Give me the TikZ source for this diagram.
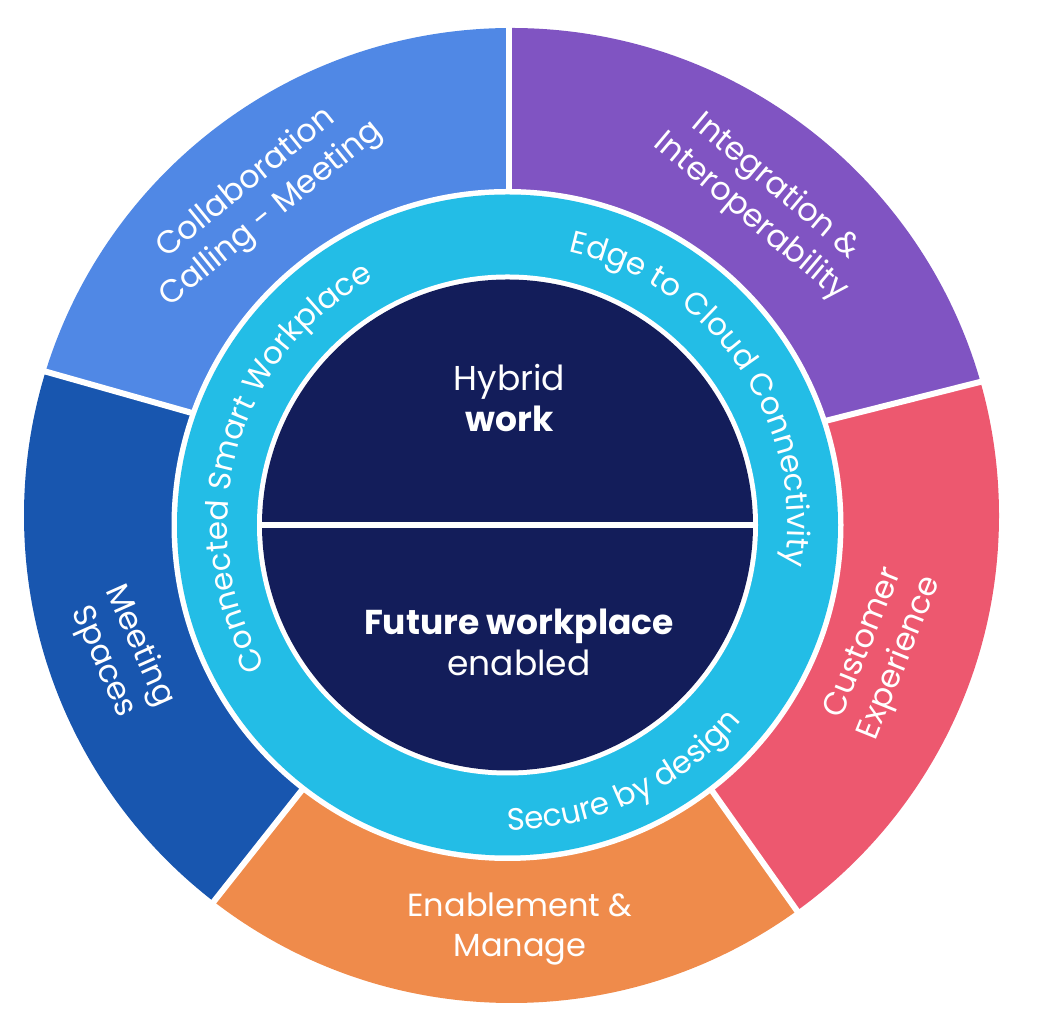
\documentclass[tikz,border=0pt]{standalone}
\usepackage{fontspec}
\setmainfont{Poppins}
\usetikzlibrary{calc,decorations.text}

\definecolor{collabblue}{RGB}{80,136,229}
\definecolor{integpurple}{RGB}{128,84,194}
\definecolor{custpink}{RGB}{237,88,111}
\definecolor{enableorange}{RGB}{239,139,75}
\definecolor{meetblue}{RGB}{24,86,175}
\definecolor{ringcyan}{RGB}{35,189,230}
\definecolor{hubnavy}{RGB}{19,29,90}

\newcommand\seglabelfont{\fontsize{32}{39.5}\selectfont}
\newcommand\hubfont{\fontsize{34.5}{41}\selectfont}
\newcommand\ringfont{\fontsize{31}{31}\selectfont}

\begin{document}
\begin{tikzpicture}[x=1pt,y=1pt,
  gap/.style={white,line width=6pt},
  seglabel/.style={text=white,align=center,font=\seglabelfont,inner sep=0pt},
  hublabel/.style={text=white,align=center,font=\hubfont,inner sep=0pt},
  ringtext/.style={decorate,decoration={text along path,text align=center,
    text color=white,text={|\ringfont|#1}}}]
\useasboundingbox (0,0) rectangle (1037,1030);

% centres of the outer ring and of the hub
\coordinate (O) at (511.5,514.5);
\coordinate (C) at (507.5,505);

% borders between the outer segments (inner and outer ends)
\coordinate (top-i) at (508.5,840); \coordinate (top-o) at (508.5,1002);
\coordinate (lft-i) at (192,617);   \coordinate (lft-o) at (47,658);
\coordinate (llo-i) at (302,240);   \coordinate (llo-o) at (215,130);
\coordinate (lro-i) at (715,235);   \coordinate (lro-o) at (795,122);
\coordinate (rgt-i) at (825,609);   \coordinate (rgt-o) at (980,648);

% outer segments
\begin{scope}
  \clip (O) circle (487.5);
  \fill[integpurple] ($(rgt-i)!-1!(rgt-o)$) -- ($(rgt-i)!4!(rgt-o)$)
    -- ($(top-i)!4!(top-o)$) -- ($(top-i)!-1!(top-o)$) -- cycle;
  \fill[collabblue] ($(top-i)!-1!(top-o)$) -- ($(top-i)!4!(top-o)$)
    -- ($(lft-i)!4!(lft-o)$) -- ($(lft-i)!-1!(lft-o)$) -- cycle;
  \fill[meetblue] ($(lft-i)!-1!(lft-o)$) -- ($(lft-i)!4!(lft-o)$)
    -- ($(llo-i)!4!(llo-o)$) -- ($(llo-i)!-1!(llo-o)$) -- cycle;
  \fill[enableorange] ($(llo-i)!-1!(llo-o)$) -- ($(llo-i)!4!(llo-o)$)
    -- ($(lro-i)!4!(lro-o)$) -- ($(lro-i)!-1!(lro-o)$) -- cycle;
  \fill[custpink] ($(lro-i)!-1!(lro-o)$) -- ($(lro-i)!4!(lro-o)$)
    -- ($(rgt-i)!4!(rgt-o)$) -- ($(rgt-i)!-1!(rgt-o)$) -- cycle;
\end{scope}
\foreach \b in {top,lft,llo,lro,rgt}
  \draw[gap] ($(\b-i)!-0.2!(\b-o)$) -- ($(\b-i)!1.1!(\b-o)$);

% ring and hub
\fill[white] (C) circle (336);
\fill[ringcyan] (C) circle (330.5);
\fill[white] (C) circle (250.5);
\fill[hubnavy] (C) circle (245.5);
\draw[gap] ($(C)+(-247,0)$) -- ($(C)+(247,0)$);

% ring texts
\path[ringtext={Connected Smart Workplace}] ($(C)+(224.4:280)$)
  arc[start angle=224.4,end angle=104.4,radius=280];
\path[ringtext={Edge to Cloud Connectivity}] ($(C)+(94.5:280)$)
  arc[start angle=94.5,end angle=-25.5,radius=280];
\path[ringtext={Secure by design}] ($(C)+(235:305)$)
  arc[start angle=235,end angle=355,radius=305];

% hub texts
\node[hublabel] (hybrid) at (509.5,632) {Hybrid\\\textbf{work}};
\node[hublabel] (future) at (519,388) {\textbf{Future workplace}\\enabled};

% segment labels
\node[seglabel,rotate=39] (collab) at (259,831) {Collaboration\\Calling - Meeting};
\node[seglabel,rotate=-40] (integ) at (763,828) {Integration \&\\Interoperability};
\node[seglabel,rotate=68] (cust) at (883,379) {Customer\\Experience};
\node[seglabel] (enable) at (520,101) {Enablement \&\\Manage};
\node[seglabel,rotate=-66] (meet) at (121,376) {Meeting\\Spaces};
\end{tikzpicture}
\end{document}
